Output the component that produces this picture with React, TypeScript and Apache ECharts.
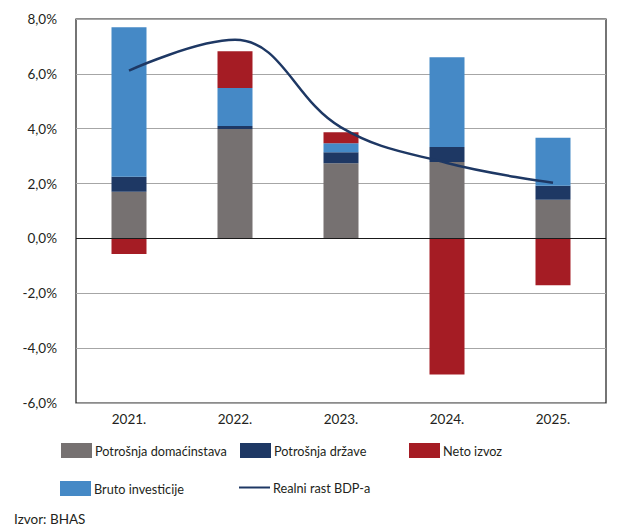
import React, { useEffect, useRef } from "react";
import * as echarts from "echarts";

const categories = ["2021.", "2022.", "2023.", "2024.", "2025."];
const household = [1.7, 3.99, 2.74, 2.79, 1.41];
const government = [0.55, 0.11, 0.4, 0.54, 0.51];
const investment = [5.45, 1.38, 0.33, 3.28, 1.75];
const netExports = [-0.57, 1.34, 0.4, -4.96, -1.71];
const gdpGrowth = [6.12, 7.24, 4.05, 2.75, 2.03];
const yTicks = { min: -6, max: 8, interval: 2 };

const FONT = "Lato";
const TXT = "#231f20";
const C_GRAY = "#767171";
const C_NAVY = "#1e3864";
const C_RED = "#a51c24";
const C_BLUE = "#4589c6";

export default function App() {
  const ref = useRef<HTMLDivElement>(null);
  useEffect(() => {
    const chart = echarts.init(ref.current!, null, { renderer: "svg" });
    const fmt = (v: number) => v.toFixed(1).replace(".", ",") + "%";
    const legendBase = {
      orient: "horizontal" as const,
      itemWidth: 31,
      itemHeight: 15,
      itemGap: 4,
      textStyle: { fontFamily: FONT, fontSize: 12.7, color: TXT, padding: [0, 0, 0, -2] },
      selectedMode: false,
      padding: 0,
    };
    chart.setOption({
      animation: false,
      textStyle: { fontFamily: FONT },
      grid: {
        left: 76,
        right: 26,
        top: 19,
        bottom: 129,
        show: true,
        borderColor: "#1a1a1a",
        borderWidth: 1.2,
        backgroundColor: "transparent",
      },
      legend: [
        { ...legendBase, left: 61, top: 443, data: [{ name: "Potrošnja domaćinstava", icon: "rect" }] },
        { ...legendBase, left: 240, top: 443, data: [{ name: "Potrošnja države", icon: "rect" }] },
        { ...legendBase, left: 409, top: 443, data: [{ name: "Neto izvoz", icon: "rect" }] },
        { ...legendBase, left: 60, top: 481, data: [{ name: "Bruto investicije", icon: "rect" }] },
        {
          ...legendBase,
          left: 239,
          top: 481,
          data: [{ name: "Realni rast BDP-a", icon: "path://M0,6.5 L31,6.5 L31,8.5 L0,8.5 Z" }],
        },
      ],
      xAxis: {
        type: "category",
        data: categories,
        axisLine: { show: false, onZero: false },
        axisTick: { show: false },
        axisLabel: { fontFamily: FONT, fontSize: 13.5, color: TXT, margin: 9 },
      },
      yAxis: {
        type: "value",
        min: yTicks.min,
        max: yTicks.max,
        interval: yTicks.interval,
        axisLine: { show: false },
        axisTick: { show: false },
        axisLabel: { fontFamily: FONT, fontSize: 13.5, color: TXT, margin: 19, formatter: fmt },
        splitLine: { lineStyle: { color: "#a6a6a6", width: 1.2 } },
      },
      graphic: [
        {
          type: "line",
          shape: { x1: 3, y1: 0, x2: 3, y2: 532 },
          style: { stroke: "#8c8c8c", lineWidth: 1.5 },
        },
        {
          type: "text",
          left: 14,
          top: 512,
          style: { text: "Izvor: BHAS", fontFamily: FONT, fontSize: 13.5, fill: TXT },
        },
      ],
      series: [
        {
          name: "Potrošnja domaćinstava",
          type: "bar",
          stack: "t",
          barWidth: 35,
          data: household,
          itemStyle: { color: C_GRAY },
          markLine: {
            silent: true,
            symbol: "none",
            label: { show: false },
            lineStyle: { color: "#1a1a1a", width: 1.2, type: "solid" },
            data: [{ yAxis: 0 }],
          },
        },
        { name: "Potrošnja države", type: "bar", stack: "t", data: government, itemStyle: { color: C_NAVY } },
        { name: "Bruto investicije", type: "bar", stack: "t", data: investment, itemStyle: { color: C_BLUE } },
        { name: "Neto izvoz", type: "bar", stack: "t", data: netExports, itemStyle: { color: C_RED } },
        {
          name: "Realni rast BDP-a",
          type: "line",
          data: gdpGrowth,
          smooth: 0.4,
          showSymbol: false,
          symbol: "none",
          z: 5,
          lineStyle: { color: C_NAVY, width: 2.5 },
          itemStyle: { color: C_NAVY },
        },
      ],
    });
    return () => chart.dispose();
  }, []);
  return <div ref={ref} style={{ width: 632, height: 532, margin: -8 }} />;
}
